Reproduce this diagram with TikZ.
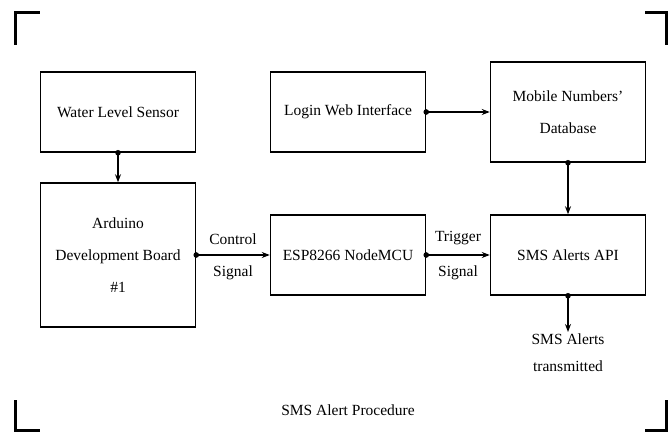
\documentclass[tikz,border=0pt]{standalone}
\usepackage{fontspec}
\setmainfont{Liberation Serif}
\usetikzlibrary{arrows.meta}
\begin{document}
\begin{tikzpicture}[x=1pt,y=-1pt,
  box/.style={draw, line width=1.5pt, minimum width=155pt, inner sep=0pt, align=center, font=\fontsize{15.5}{32}\selectfont},
  conn/.style={line width=1.2pt, -{Stealth[length=8pt,width=6pt]}},
  lbl/.style={font=\fontsize{15.5}{17}\selectfont, inner sep=0pt},
  corner/.style={line width=3pt}]
\useasboundingbox (0,0) rectangle (669,435);
% corner marks
\draw[corner] (15,45) -- (15,13) -- (40,13);
\draw[corner] (645,13) -- (666,13) -- (666,45);
\draw[corner] (15,400) -- (15,430) -- (40,430);
\draw[corner] (645,430) -- (666,430) -- (666,400);
% boxes
\node[box, minimum height=80pt] (wls) at (118,112) {Water Level Sensor};
\node[box, minimum height=80pt] (login) at (348,112) {Login Web Interface};
\node[box, minimum height=100pt] (mob) at (568,112) {Mobile Numbers'\\Database};
\node[box, minimum height=144pt] (ard) at (118,255) {Arduino\\Development Board\\\#1};
\node[box, minimum height=80pt] (esp) at (348,255) {ESP8266 NodeMCU};
\node[box, minimum height=80pt] (sms) at (568,255) {SMS Alerts API};
\node[align=center, font=\fontsize{15.5}{27}\selectfont, inner sep=2pt, anchor=north] (out) at (568,332) {SMS Alerts\\transmitted};
\node[lbl] (cap) at (348,410) {SMS Alert Procedure};
% connectors
\draw[conn] (wls.south) -- (ard.north);
\draw[conn] (login.east) -- (mob.west);
\draw[conn] (mob.south) -- (sms.north);
\draw[conn] (ard.east) -- node[lbl, above=10pt] {Control} node[lbl, below=10pt] {Signal} (esp.west);
\draw[conn] (esp.east) -- node[lbl, above=10pt] {Trigger} node[lbl, below=10pt] {Signal} (sms.west);
\draw[conn] (sms.south) -- (out.north);
% dots
\foreach \p in {wls.south, login.east, mob.south, ard.east, esp.east, sms.south}
  \fill (\p) circle (2.8);
\end{tikzpicture}
\end{document}
